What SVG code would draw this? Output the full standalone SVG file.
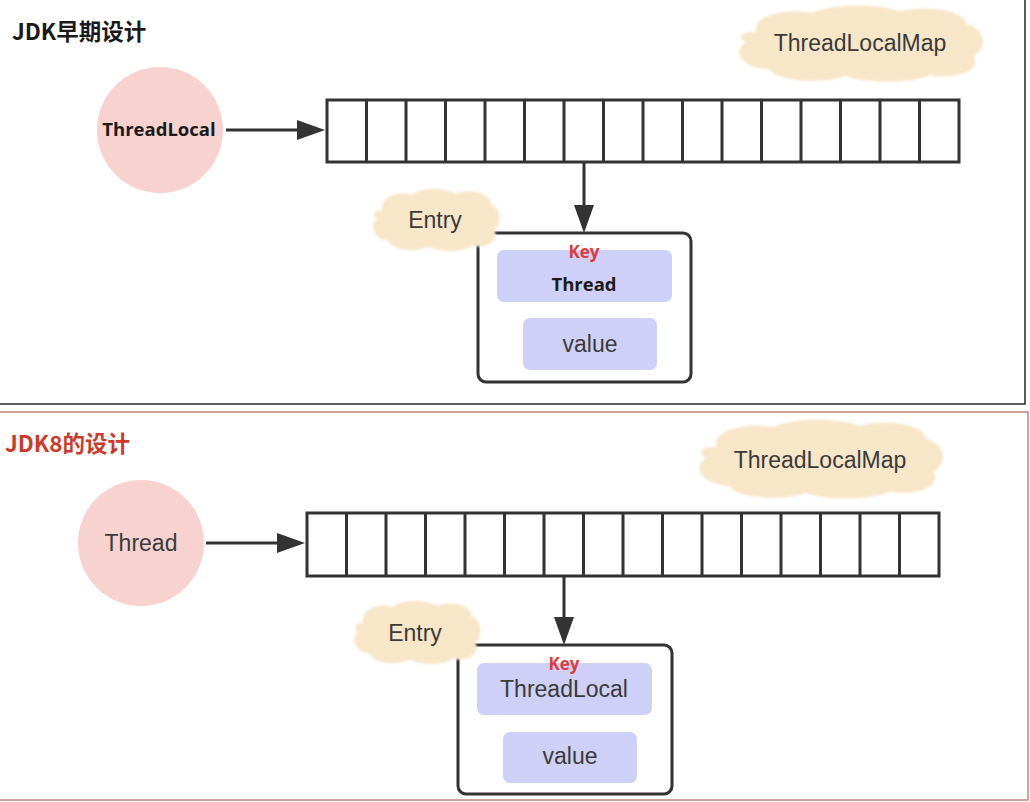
<svg xmlns="http://www.w3.org/2000/svg" width="1030" height="802" viewBox="0 0 1030 802">
<defs>
<style>
.panel{fill:#fff;stroke-width:1.6}
.arr{fill:none;stroke:#333;stroke-width:3}
.cell{fill:#fff;stroke:#333;stroke-width:3}
.circ{fill:#f7d2cf}
.cloud{fill:#f8e6c9}
.box{fill:#fff;stroke:#333;stroke-width:3}
.kv{fill:#ced0f7}
.reg{font-family:"Liberation Sans",Arial,sans-serif;font-size:23px;fill:#3a3a3a;text-anchor:middle}
.bold{font-family:"Open Sans","Noto Sans",sans-serif;font-weight:700;font-size:18.5px;fill:#1a1a1a;text-anchor:middle}
.key{font-family:"Open Sans","Noto Sans",sans-serif;font-weight:700;font-size:17px;fill:#e03a3a;text-anchor:middle}
.title{font-family:"Noto Sans CJK SC","Noto Sans",sans-serif;font-weight:700;font-size:22.5px}
</style>
<marker id="ah" viewBox="0 0 28 20" refX="23" refY="10" markerWidth="28" markerHeight="20" markerUnits="userSpaceOnUse" orient="auto">
<path d="M0,0 L28,10 L0,20 Z" fill="#333"/>
</marker>
<path id="cloudshape" d="M10,22 C8,10 22,4 32,8 C40,1 58,1 66,7 C76,2 92,6 92,16 C100,20 101,34 95,40 C99,50 88,58 78,54 C70,61 52,60 45,55 C36,61 18,59 15,50 C4,49 0,36 6,30 C2,26 4,22 10,22 Z"/>
<filter id="soft" x="-10%" y="-10%" width="120%" height="120%"><feGaussianBlur stdDeviation="1.2"/></filter>
</defs>

<g id="panel-top">
<rect class="panel" x="-2" y="-2" width="1027" height="406" stroke="#333"/>
<text class="title" x="12" y="40" fill="#1a1a1a">JDK早期设计</text>
</g>
<g id="panel-bottom">
<rect class="panel" x="-2" y="412" width="1030" height="388" stroke="#c98b82"/>
<text class="title" x="5" y="452" fill="#cc3a2a">JDK8的设计</text>
</g>

<g id="connectors">
<line class="arr" x1="226" y1="130" x2="320" y2="130" marker-end="url(#ah)"/>
<line class="arr" x1="584" y1="162" x2="584" y2="228" marker-end="url(#ah)"/>
<line class="arr" x1="206" y1="543" x2="300" y2="543" marker-end="url(#ah)"/>
<line class="arr" x1="564" y1="576" x2="564" y2="640" marker-end="url(#ah)"/>
</g>

<g id="threadlocal-top">
<circle class="circ" cx="160" cy="130" r="63"/>
<text class="bold" x="159" y="136">ThreadLocal</text>
</g>

<g id="map-top">
<g filter="url(#soft)"><use href="#cloudshape" class="cloud" transform="translate(731,2) scale(2.55,1.35)"/></g>
<text class="reg" x="860" y="51">ThreadLocalMap</text>
</g>

<g id="array-top">
<rect class="cell" x="327" y="100" width="632" height="62"/>
<path class="arr" d="M366.5,100V162M406,100V162M445.5,100V162M485,100V162M524.5,100V162M564,100V162M603.5,100V162M643,100V162M682.5,100V162M722,100V162M761.5,100V162M801,100V162M840.5,100V162M880,100V162M919.5,100V162"/>
</g>

<g id="entry-top">
<rect class="box" x="478" y="233" width="213" height="149" rx="8"/>
<g filter="url(#soft)"><use href="#cloudshape" class="cloud" transform="translate(369,186) scale(1.32,1.1)"/></g>
<text class="reg" x="435" y="228">Entry</text>
<rect class="kv" x="497" y="250" width="175" height="52" rx="7"/>
<text class="key" x="584" y="258">Key</text>
<text class="bold" x="584" y="291">Thread</text>
<rect class="kv" x="523" y="318" width="134" height="52" rx="7"/>
<text class="reg" x="590" y="352">value</text>
</g>

<g id="thread-bottom">
<circle class="circ" cx="141" cy="543" r="63"/>
<text class="reg" x="141" y="551">Thread</text>
</g>

<g id="map-bottom">
<g filter="url(#soft)"><use href="#cloudshape" class="cloud" transform="translate(691,416) scale(2.55,1.4)"/></g>
<text class="reg" x="820" y="468">ThreadLocalMap</text>
</g>

<g id="array-bottom">
<rect class="cell" x="307" y="513" width="632" height="63"/>
<path class="arr" d="M346.5,513V576M386,513V576M425.5,513V576M465,513V576M504.5,513V576M544,513V576M583.5,513V576M623,513V576M662.5,513V576M702,513V576M741.5,513V576M781,513V576M820.5,513V576M860,513V576M899.5,513V576"/>
</g>

<g id="entry-bottom">
<rect class="box" x="458" y="645" width="214" height="149" rx="8"/>
<g filter="url(#soft)"><use href="#cloudshape" class="cloud" transform="translate(350,598) scale(1.32,1.12)"/></g>
<text class="reg" x="415" y="641">Entry</text>
<rect class="kv" x="477" y="663" width="175" height="52" rx="7"/>
<text class="key" x="564" y="670">Key</text>
<text class="reg" x="564" y="697">ThreadLocal</text>
<rect class="kv" x="503" y="732" width="134" height="51" rx="7"/>
<text class="reg" x="570" y="764">value</text>
</g>
</svg>
